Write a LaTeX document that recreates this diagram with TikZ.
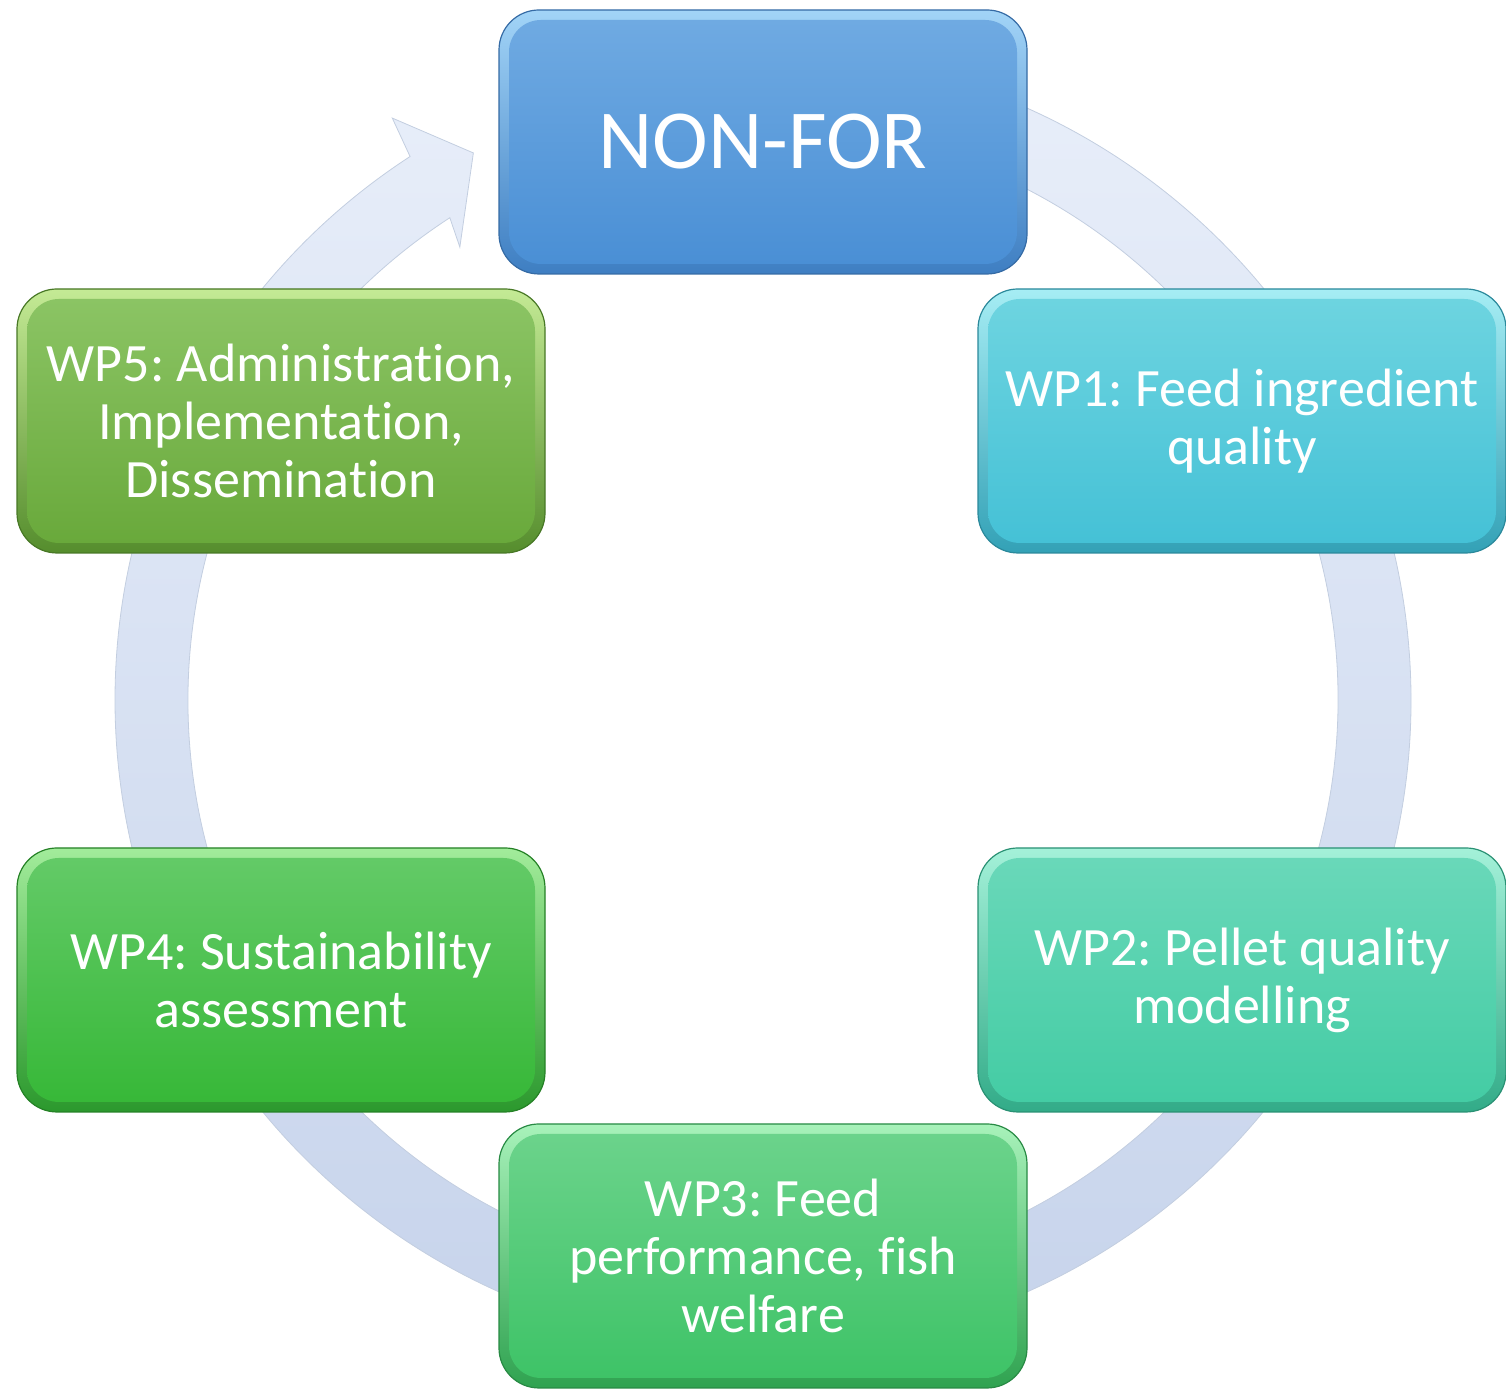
\documentclass[tikz,border=0pt]{standalone}
\usepackage{fontspec}
\setmainfont{Carlito}[Ligatures={NoCommon}]
\definecolor{ringtop}{HTML}{E9EFFA}
\definecolor{ringbot}{HTML}{C6D3EB}
\definecolor{ringline}{HTML}{C3CEE0}
\definecolor{c0t}{HTML}{6FAAE2}\definecolor{c0b}{HTML}{4A8FD5}\definecolor{c0e}{HTML}{3E7EC2}\definecolor{c0l}{HTML}{A2D4F7}
\definecolor{c1t}{HTML}{6DD4E0}\definecolor{c1b}{HTML}{45C1D6}\definecolor{c1e}{HTML}{33A1B6}\definecolor{c1l}{HTML}{A6EDF4}
\definecolor{c2t}{HTML}{69D8B9}\definecolor{c2b}{HTML}{44CCA4}\definecolor{c2e}{HTML}{32AB88}\definecolor{c2l}{HTML}{A4F1D9}
\definecolor{c3t}{HTML}{6BD38B}\definecolor{c3b}{HTML}{3EC367}\definecolor{c3e}{HTML}{2FA250}\definecolor{c3l}{HTML}{A8F2BA}
\definecolor{c4t}{HTML}{63CA67}\definecolor{c4b}{HTML}{37B838}\definecolor{c4e}{HTML}{2B982D}\definecolor{c4l}{HTML}{A2EC9B}
\definecolor{c5t}{HTML}{8BC464}\definecolor{c5b}{HTML}{69A93B}\definecolor{c5e}{HTML}{558D2D}\definecolor{c5l}{HTML}{C4EA95}
\tikzset{
  frame/.style={rounded corners=20pt, minimum width=264pt, minimum height=132pt, inner sep=0pt, line width=0.6pt},
  face/.style={rounded corners=16pt, minimum width=254pt, minimum height=122pt, inner sep=0pt, align=center,
    text=white, font=\fontsize{27}{29}\selectfont\frenchspacing},
  ringshape/.style={top color=ringtop, bottom color=ringbot, draw=ringline, line width=0.4pt}
}
\newcommand{\bevelbox}[7]{%
  \node[frame, top color=#6, bottom color=#5, draw=#5!85!black] (#1f) at #2 {};
  \node[face, top color=#3, bottom color=#4] (#1) at #2 {#7};
}
\begin{document}
\begin{tikzpicture}[x=0.5pt, y=0.5pt]
\useasboundingbox (0,0) rectangle (1506,1390);
% circular arrow
\begin{scope}[shift={(763,690)}]
  \path[ringshape] (95:648) arc[start angle=95, end angle=-237, radius=648]
     -- (-237.5:690) -- (-242.1:619) -- (-236.2:545) -- (-237:575)
     arc[start angle=-237, end angle=95, radius=575] -- cycle;
\end{scope}
% boxes
\bevelbox{n0}{(763,1248)}{c0t}{c0b}{c0e}{c0l}{\fontsize{42}{44}\selectfont NON-FOR}
\bevelbox{n1}{(1242,969)}{c1t}{c1b}{c1e}{c1l}{WP1: Feed ingredient\\quality}
\bevelbox{n2}{(1242,410)}{c2t}{c2b}{c2e}{c2l}{WP2: Pellet quality\\modelling}
\bevelbox{n3}{(763,134)}{c3t}{c3b}{c3e}{c3l}{WP3: Feed\\performance, fish\\welfare}
\bevelbox{n4}{(281,410)}{c4t}{c4b}{c4e}{c4l}{WP4: Sustainability\\assessment}
\bevelbox{n5}{(281,969)}{c5t}{c5b}{c5e}{c5l}{WP5: Administration,\\Implementation,\\Dissemination}
\end{tikzpicture}
\end{document}
